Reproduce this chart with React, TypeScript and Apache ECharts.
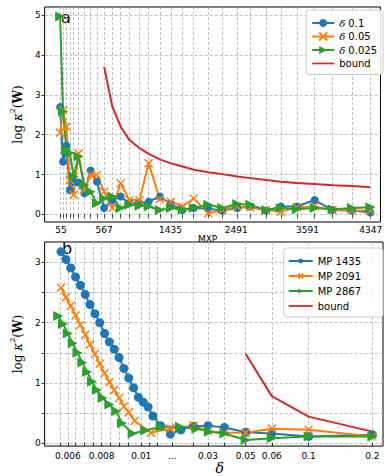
import { useEffect, useRef } from 'react';
import * as echarts from 'echarts';

const BLUE = '#1f77b4';
const ORANGE = '#ff7f0e';
const GREEN = '#2ca02c';
const RED = '#d62728';

// ---------- panel a (top) ----------
// x positions of the samples along the MXP axis (ordinal position units)
const topXPos = [16, 19, 22.5, 26, 30, 35, 41, 47.5, 54, 61.5, 70, 78.5, 87.5, 98, 107.5, 119, 130.5, 142.5, 154, 169, 183.5, 199, 212.5, 229, 244, 260.5, 279, 297.5, 317.5, 336.5];
const topDelta01 = [2.69, 1.32, 1.72, 0.61, 0.82, 0.8, 0.53, 1.1, 0.82, 0.16, 0.36, 0.45, 0.28, 0.28, 0.32, 0.45, 0.26, 0.11, 0.16, 0.14, 0.1, 0.16, 0.2, 0.1, 0.2, 0.2, 0.36, 0.11, 0.1, 0.05];
const topDelta005 = [2.05, 2.62, 2.2, 0.86, 0.49, 1.53, 0.62, 0.99, 0.99, 0.57, 0.16, 0.78, 0.36, 0.36, 1.28, 0.38, 0.32, 0.2, 0.4, 0.03, 0.11, 0.2, 0.18, 0.11, 0.07, 0.18, 0.2, 0.11, 0.1, 0.1];
const topDelta0025 = [4.96, 2.58, 1.62, 1.54, 0.95, 1.45, 0.74, 0.57, 0.28, 0.4, 0.45, 0.16, 0.24, 0.22, 0.2, 0.11, 0.16, 0.12, 0.16, 0.24, 0.16, 0.26, 0.24, 0.11, 0.16, 0.13, 0.16, 0.13, 0.16, 0.18];
const topBound = [null, null, null, null, null, null, null, null, null, 3.7, 2.7, 2.2, 1.87, 1.66, 1.52, 1.38, 1.28, 1.2, 1.12, 1.06, 1.01, 0.95, 0.91, 0.86, 0.82, 0.79, 0.76, 0.73, 0.71, 0.68];
const topTickPos = [17, 61.5, 130, 198, 271.5, 337];
const topTickLabels = ['55', '567', '1435', '2491', '3591', '4347'];
const topYTicks = [0, 1, 2, 3, 4, 5];

// ---------- panel b (bottom) ----------
const botMP1435X = [17, 22, 27, 32, 37, 42, 47, 52, 57, 62, 67, 72, 77, 82, 87, 92, 97, 102, 107, 112, 120, 130, 141, 154, 169, 186, 208, 235, 273, 339];
const botMP1435Y = [3.18, 3.05, 2.91, 2.76, 2.62, 2.47, 2.3, 2.15, 2.0, 1.82, 1.68, 1.56, 1.42, 1.24, 1.08, 0.92, 0.76, 0.68, 0.6, 0.45, 0.29, 0.15, 0.22, 0.28, 0.29, 0.26, 0.18, 0.16, 0.11, 0.14];
const botMP2091X = [17, 22, 27, 32, 37, 42, 47, 52, 57, 62, 67, 72, 77, 82, 87, 93, 110, 130, 154, 169, 186, 208, 235, 273, 339];
const botMP2091Y = [2.58, 2.42, 2.28, 2.12, 1.96, 1.8, 1.64, 1.48, 1.32, 1.16, 1.01, 0.88, 0.75, 0.61, 0.51, 0.37, 0.17, 0.24, 0.29, 0.2, 0.17, 0.17, 0.24, 0.22, 0.11];
const botMP2867X = [14, 19, 24, 29, 34, 39, 44, 49, 54, 60, 67, 74, 80, 91, 104, 120, 140, 157, 170, 186, 208, 235, 273, 339];
const botMP2867Y = [2.11, 1.98, 1.82, 1.66, 1.5, 1.34, 1.18, 1.02, 0.88, 0.75, 0.64, 0.53, 0.33, 0.16, 0.21, 0.27, 0.27, 0.24, 0.19, 0.16, 0.05, 0.08, 0.11, 0.11];
const botBoundX = [208, 235, 273, 339];
const botBoundY = [1.48, 0.78, 0.44, 0.19];
const botTickPos = [24, 59, 100, 132, 169, 208, 235, 273, 339];
const botTickLabels = ['0.006', '0.008', '0.01', '...', '0.03', '0.05', '0.06', '0.1', '0.2'];
const botGridPos = [16, 24, 32, 41, 50, 59, 68, 77, 87, 100, 108, 117, 132, 154, 169, 186, 208, 235, 273, 339];
const botYTicks = [0, 0.5, 1, 1.5, 2, 2.5, 3];
const botYLabels = [0, 1, 2, 3];

const X_MARK = 'path://M0,0L10,10M10,0L0,10';
const LINE_ICON = 'path://M0,0L24,0L24,1.8L0,1.8Z';

const zip = (xs: number[], ys: (number | null)[]) =>
  xs.map((x, i) => [x, ys[i]]).filter((p) => p[1] !== null);

const gridLine = { show: true, lineStyle: { color: '#b0b0b0', type: [3, 2], width: 0.8 } };
const tickFont = { fontFamily: 'DejaVu Sans', fontSize: 9, color: '#000' };

const yName = '{t|log }{k|κ}{s|2}{t|(}{b|W}{t|)}';
const yNameStyle = {
  rich: {
    t: { fontFamily: 'DejaVu Serif', fontSize: 12, color: '#000', lineHeight: 16, verticalAlign: 'bottom' },
    k: { fontFamily: 'DejaVu Serif', fontStyle: 'italic', fontSize: 12, color: '#000', lineHeight: 16, verticalAlign: 'bottom' },
    s: { fontFamily: 'DejaVu Serif', fontSize: 8, color: '#000', lineHeight: 16, verticalAlign: 'top' },
    b: { fontFamily: 'DejaVu Serif', fontWeight: 'bold', fontSize: 12, color: '#000', lineHeight: 16, verticalAlign: 'bottom' },
  },
};

const legendText = (lineHeight: number) => ({
  fontFamily: 'DejaVu Sans',
  fontSize: 10,
  color: '#000',
  lineHeight,
  rich: {
    d: { fontFamily: 'DejaVu Serif', fontStyle: 'italic', fontSize: 10, color: '#000', lineHeight },
    n: { fontFamily: 'DejaVu Sans', fontSize: 10, color: '#000', lineHeight },
  },
});

const legendBase = {
  orient: 'vertical',
  borderColor: '#cccccc',
  borderWidth: 1,
  borderRadius: 3,
  backgroundColor: 'rgba(255,255,255,0.85)',
  formatter: (name: string) => (name.startsWith('δ') ? `{d|δ} {n|${name.slice(2)}}` : name),
};

export default function App() {
  const ref = useRef<HTMLDivElement>(null);
  useEffect(() => {
    document.body.style.margin = '0';
    const chart = echarts.init(ref.current!, null, { renderer: 'svg' });
    const option: any = {
      animation: false,
      backgroundColor: '#fff',
      grid: [
        { left: 36, right: 2, top: 7, height: 215, show: true, borderColor: '#000', borderWidth: 1 },
        { left: 33, right: 2, top: 242, height: 211, show: true, borderColor: '#000', borderWidth: 1 },
      ],
      xAxis: [
        {
          type: 'value', gridIndex: 0, min: 0, max: 347,
          name: 'MXP', nameLocation: 'middle', nameGap: 9,
          nameTextStyle: { fontFamily: 'DejaVu Sans', fontSize: 9, color: '#000', padding: [0, 10, 0, 0] },
          axisLine: { show: false },
          axisTick: { show: true, customValues: topXPos, length: 3, lineStyle: { color: '#000', width: 0.8 } },
          axisLabel: {
            ...tickFont, margin: 3, customValues: topTickPos,
            formatter: (v: number) => topTickLabels[topTickPos.indexOf(v)] ?? '',
          },
          splitLine: gridLine,
        },
        {
          type: 'value', gridIndex: 1, min: 0, max: 350,
          name: 'δ', nameLocation: 'middle', nameGap: 10,
          nameTextStyle: { fontFamily: 'DejaVu Serif', fontStyle: 'italic', fontSize: 14, color: '#000', padding: [0, 0, 0, 12] },
          axisLine: { show: false },
          axisTick: { show: true, customValues: botGridPos, length: 3, lineStyle: { color: '#000', width: 0.8 } },
          axisLabel: {
            ...tickFont, margin: 5, customValues: botTickPos,
            formatter: (v: number) => botTickLabels[botTickPos.indexOf(v)] ?? '',
          },
          splitLine: gridLine,
        },
      ],
      yAxis: [
        {
          type: 'value', gridIndex: 0, min: -0.19, max: 5.2,
          name: yName, nameLocation: 'middle', nameGap: 18, nameRotate: 90, nameTextStyle: yNameStyle,
          axisLine: { show: false },
          axisTick: { show: true, customValues: topYTicks, length: 3, lineStyle: { color: '#000', width: 0.8 } },
          axisLabel: { ...tickFont, margin: 4, customValues: topYTicks },
          splitLine: gridLine,
        },
        {
          type: 'value', gridIndex: 1, min: -0.05, max: 3.34,
          name: yName, nameLocation: 'middle', nameGap: 18, nameRotate: 90, nameTextStyle: yNameStyle,
          axisLine: { show: false },
          axisTick: { show: true, customValues: botYTicks, length: 3, lineStyle: { color: '#000', width: 0.8 } },
          axisLabel: { ...tickFont, margin: 4, customValues: botYLabels },
          splitLine: gridLine,
        },
      ],
      legend: [
        {
          ...legendBase,
          right: 2, top: 10, padding: [7, 6, 5, 5],
          itemWidth: 22, itemHeight: 10, itemGap: 1.5,
          textStyle: legendText(12),
          data: ['δ 0.1', 'δ 0.05', 'δ 0.025', { name: 'bound', icon: LINE_ICON }],
        },
        {
          ...legendBase,
          right: 2, top: 248, padding: [7, 22, 5, 4],
          itemWidth: 24, itemHeight: 6, itemGap: 3,
          textStyle: legendText(12),
          data: ['MP 1435', 'MP 2091', 'MP 2867', { name: 'bound ', icon: LINE_ICON }],
        },
      ],
      graphic: [
        { type: 'text', left: 61, top: 9, style: { text: 'a', fontFamily: 'DejaVu Sans', fontSize: 16, fill: '#000' } },
        { type: 'text', left: 62, top: 240, style: { text: 'b', fontFamily: 'DejaVu Sans', fontSize: 16, fill: '#000' } },
      ],
      series: [
        {
          name: 'δ 0.1', type: 'line', xAxisIndex: 0, yAxisIndex: 0, data: zip(topXPos, topDelta01),
          symbol: 'circle', symbolSize: 8, color: BLUE, lineStyle: { width: 2 },
        },
        {
          name: 'δ 0.05', type: 'line', xAxisIndex: 0, yAxisIndex: 0, data: zip(topXPos, topDelta005),
          symbol: X_MARK, symbolSize: 8, color: ORANGE, lineStyle: { width: 2 },
          itemStyle: { borderColor: ORANGE, borderWidth: 1.5 },
        },
        {
          name: 'δ 0.025', type: 'line', xAxisIndex: 0, yAxisIndex: 0, data: zip(topXPos, topDelta0025),
          symbol: 'triangle', symbolRotate: -90, symbolSize: 10, color: GREEN, lineStyle: { width: 2 },
        },
        {
          name: 'bound', type: 'line', xAxisIndex: 0, yAxisIndex: 0, data: zip(topXPos, topBound),
          symbol: 'none', color: RED, lineStyle: { width: 2 },
        },
        {
          name: 'MP 1435', type: 'line', xAxisIndex: 1, yAxisIndex: 1, data: zip(botMP1435X, botMP1435Y),
          symbol: 'circle', symbolSize: 9, color: BLUE, lineStyle: { width: 2 },
        },
        {
          name: 'MP 2091', type: 'line', xAxisIndex: 1, yAxisIndex: 1, data: zip(botMP2091X, botMP2091Y),
          symbol: X_MARK, symbolSize: 8, color: ORANGE, lineStyle: { width: 2 },
          itemStyle: { borderColor: ORANGE, borderWidth: 1.5 },
        },
        {
          name: 'MP 2867', type: 'line', xAxisIndex: 1, yAxisIndex: 1, data: zip(botMP2867X, botMP2867Y),
          symbol: 'triangle', symbolRotate: -90, symbolSize: 10, color: GREEN, lineStyle: { width: 2 },
        },
        {
          name: 'bound ', type: 'line', xAxisIndex: 1, yAxisIndex: 1, data: zip(botBoundX, botBoundY),
          symbol: 'none', color: RED, lineStyle: { width: 2 },
        },
      ],
    };
    chart.setOption(option);
    return () => chart.dispose();
  }, []);
  return <div ref={ref} style={{ position: 'absolute', left: 0, top: 0, width: 385, height: 476 }} />;
}
